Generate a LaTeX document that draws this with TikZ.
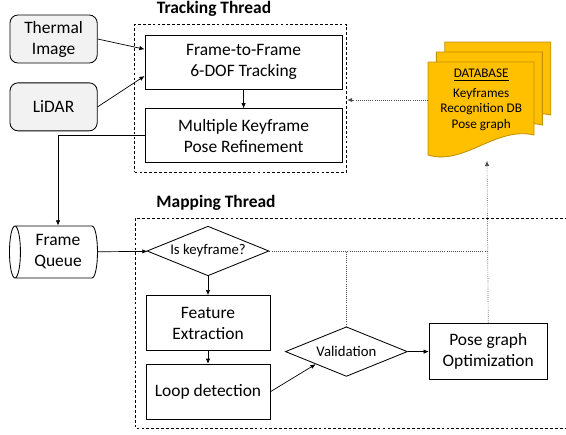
\documentclass[tikz,border=0pt]{standalone}
\usepackage{fontspec}
\setmainfont{Carlito}
\usepackage{xcolor}
\usepackage{tikz}
\usetikzlibrary{arrows.meta,positioning,shapes.geometric,calc,fit}

\definecolor{dbfill}{HTML}{FFC000}
\definecolor{dbedge}{HTML}{BF9000}

\begin{document}
\begin{tikzpicture}[
  node distance=0.475cm and 1.2cm,
  every node/.style={font=\fontsize{12.4}{14.9}\selectfont},
  block/.style={draw, line width=0.6pt, minimum width=4.93cm, minimum height=1.35cm, align=center},
  smallblock/.style={block, minimum width=3.1cm, minimum height=1.37cm},
  source/.style={draw, line width=0.6pt, rounded corners=0.2cm, fill=gray!10, minimum width=2.18cm, minimum height=1.2cm, align=center},
  decision/.style={draw, line width=0.6pt, diamond, aspect=2.4, inner sep=0pt, minimum width=3.05cm, minimum height=1.24cm, font=\fontsize{10.5}{12.5}\selectfont},
  queue/.style={draw, line width=0.6pt, cylinder, shape border rotate=180, aspect=0.25, minimum height=2.2cm, minimum width=1.3cm, align=center},
  thread/.style={draw, dash pattern=on 2pt off 1.5pt, line width=0.6pt},
  title/.style={font=\fontsize{12.4}{14.9}\selectfont\bfseries},
  sheet/.style={draw=dbedge, fill=dbfill, line width=0.6pt},
  flow/.style={-{Latex[length=1.3mm,width=1.1mm]}, line width=0.5pt},
  dotline/.style={densely dotted, black!70, line width=0.5pt},
  link/.style={dotline, -{Latex[length=1.3mm,width=1.1mm]}}
]
  \useasboundingbox (0,0) rectangle (14.15,-10.85);

  % sensor inputs
  \node[source] (thermal) at (1.34,-0.975) {Thermal\\Image};
  \node[source, below=of thermal] (lidar) {LiDAR};

  % tracking thread
  \node[block] (f2f) at (6.09,-1.55) {Frame-to-Frame\\6-DOF Tracking};
  \node[block, below=of f2f] (mk) {Multiple Keyframe\\Pose Refinement};
  \node[thread, inner sep=0pt, fit={($(f2f.north west)+(-0.25,0.25)$) ($(mk.south east)+(0.1,-0.23)$)}] (track) {};
  \node[title] (tracktitle) at (5.35,-0.22) {Tracking Thread};

  % mapping thread
  \node[queue] (queue) at (1.45,-6.3) {Frame\\Queue};
  \node[decision] (iskey) at (5.2,-6.275) {Is keyframe?};
  \node[smallblock, below=of iskey] (fe) {Feature\\Extraction};
  \node[smallblock, below=0.325cm of fe] (ld) {Loop detection};
  \node[decision] (val) at (8.66,-8.79) {Validation};
  \node[smallblock, minimum width=2.95cm, minimum height=1.4cm, right=0.525cm of val] (pgo) {Pose graph\\Optimization};
  \draw[thread] (14.2,-5.45) -- (3.375,-5.45) -- (3.375,-10.7) -- (14.2,-10.7);
  \node[title] (maptitle) at (5.4,-5.07) {Mapping Thread};

  % database stack
  \foreach \dx/\dy in {0.42/0.5, 0.21/0.25, 0/0}
    \draw[sheet, shift={(\dx,\dy)}] (10.7,-1.55) -- (13.35,-1.55) -- (13.35,-3.375)
      .. controls (12.4,-3.15) and (11.6,-4.15) .. (10.7,-3.875) -- cycle;
  \node[align=center, font=\fontsize{9.4}{11.2}\selectfont] (db) at (12.03,-2.5)
    {\underline{DATABASE}\\[2.5pt]Keyframes\\Recognition DB\\Pose graph};
  \coordinate (dbin) at (10.7,-2.5);
  \coordinate (dbout) at (12.175,-4.02);

  % connectors
  \draw[flow] (thermal.east) -- ($(f2f.west)+(0,0.32)$);
  \draw[flow] (lidar.east) -- ($(f2f.west)+(0,-0.35)$);
  \draw[flow] (f2f) -- (mk);
  \draw[flow] (mk.west) -| (queue);
  \draw[flow] (queue) -- (iskey);
  \draw[flow] (iskey) -- (fe);
  \draw[flow] (fe) -- (ld);
  \draw[flow] (ld.east) -- (val.south west);
  \draw[flow] (val) -- (pgo);

  \draw[dotline] (iskey.east) -- (iskey.east -| pgo.north);
  \draw[dotline] (val.north) -- (val.north |- iskey.east);
  \draw[link] (pgo.north) -- (dbout);
  \draw[link] (dbin) -- (dbin -| track.east);
\end{tikzpicture}
\end{document}
